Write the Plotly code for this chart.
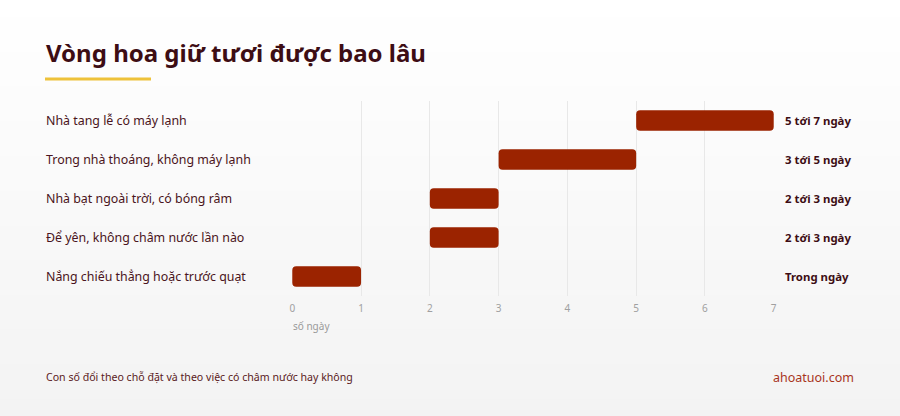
import plotly.graph_objects as go

# ---- data ----
categories = [
    "Nhà tang lễ có máy lạnh",
    "Trong nhà thoáng, không máy lạnh",
    "Nhà bạt ngoài trời, có bóng râm",
    "Để yên, không châm nước lần nào",
    "Nắng chiếu thẳng hoặc trước quạt",
]
start_days = [5, 3, 2, 2, 0]
end_days = [7, 5, 3, 3, 1]
range_labels = ["5 tới 7 ngày", "3 tới 5 ngày", "2 tới 3 ngày", "2 tới 3 ngày", "Trong ngày"]
x_ticks = [0, 1, 2, 3, 4, 5, 6, 7]

title_text = "Vòng hoa giữ tươi được bao lâu"
x_title = "số ngày"
footer_text = "Con số đổi theo chỗ đặt và theo việc có châm nước hay không"
source_text = "ahoatuoi.com"

# ---- geometry (pixels) ----
W, H = 900, 416
L, R, T, B = 292, 126, 101, 120
pw = W - L - R
ph = H - T - B

def px_x(p):
    return (p - L) / pw

def px_y(p):
    return 1 - (p - T) / ph

BAR = "#9b2300"
DARK = "#3d0d14"
LABEL = "#4a1420"
FONT = "Noto Sans"

lengths = [e - s for s, e in zip(start_days, end_days)]

fig = go.Figure()
fig.add_trace(go.Bar(
    y=categories,
    x=lengths,
    base=start_days,
    orientation="h",
    marker=dict(color=BAR, cornerradius=4, line=dict(width=0)),
    width=0.52,
    hoverinfo="skip",
))

shapes = []
# subtle vertical background gradient
n = 24
top_c = (255, 255, 255)
bot_c = (243, 243, 243)
for i in range(n):
    t = i / (n - 1)
    c = tuple(round(a + (b - a) * t) for a, b in zip(top_c, bot_c))
    y0px = H * i / n
    y1px = H * (i + 1) / n + 1
    shapes.append(dict(
        type="rect", xref="paper", yref="paper",
        x0=px_x(0), x1=px_x(W), y0=px_y(y1px), y1=px_y(y0px),
        fillcolor="rgb(%d,%d,%d)" % c, line=dict(width=0), layer="below",
    ))
# yellow accent under title
shapes.append(dict(
    type="rect", xref="paper", yref="paper",
    x0=px_x(45), x1=px_x(151), y0=px_y(80.5), y1=px_y(77.5),
    fillcolor="#eec23a", line=dict(width=0), layer="above",
))

annotations = []
annotations.append(dict(
    text="<b>" + title_text + "</b>", xref="paper", yref="paper",
    x=px_x(44), y=px_y(52), xanchor="left", yanchor="middle",
    showarrow=False, font=dict(family=FONT, size=24, color=DARK),
))
for cat, lab, end in zip(categories, range_labels, end_days):
    annotations.append(dict(
        text=cat, xref="paper", yref="y", x=px_x(44), y=cat,
        xanchor="left", yanchor="middle", showarrow=False,
        font=dict(family=FONT, size=12.4, color=LABEL),
    ))
    annotations.append(dict(
        text="<b>" + lab + "</b>", xref="paper", yref="y", x=px_x(783), y=cat,
        xanchor="left", yanchor="middle", showarrow=False,
        font=dict(family=FONT, size=11.4, color=DARK),
    ))
annotations.append(dict(
    text=x_title, xref="paper", yref="paper", x=px_x(291), y=px_y(326),
    xanchor="left", yanchor="middle", showarrow=False,
    font=dict(family=FONT, size=10, color="#9a9a9a"),
))
annotations.append(dict(
    text=footer_text, xref="paper", yref="paper", x=px_x(44), y=px_y(377),
    xanchor="left", yanchor="middle", showarrow=False,
    font=dict(family=FONT, size=10.6, color="#5a1a22"),
))
annotations.append(dict(
    text=source_text, xref="paper", yref="paper", x=px_x(856), y=px_y(377),
    xanchor="right", yanchor="middle", showarrow=False,
    font=dict(family=FONT, size=12.5, color="#a8341c"),
))

fig.update_layout(
    width=W, height=H,
    margin=dict(l=L, r=R, t=T, b=B, pad=0),
    paper_bgcolor="#f7f7f7",
    plot_bgcolor="rgba(0,0,0,0)",
    showlegend=False,
    bargap=0.48,
    font=dict(family=FONT, color=DARK),
    xaxis=dict(
        range=[-0.004, 7.004], tickvals=x_ticks, showgrid=True, gridcolor="#e8e8e8",
        gridwidth=1, zeroline=False, showline=False, ticks="",
        ticklabelstandoff=5,
        tickfont=dict(family=FONT, size=10, color="#a0a0a0"),
        fixedrange=True,
    ),
    yaxis=dict(
        categoryorder="array", categoryarray=categories[::-1],
        range=[-0.5, 4.5], showticklabels=False, showgrid=False,
        zeroline=False, showline=False, ticks="", fixedrange=True,
    ),
    shapes=shapes,
    annotations=annotations,
)

fig.write_html(
    "out.html",
    config={"displayModeBar": False},
    post_script="document.body.style.margin='0';document.body.style.overflow='hidden';",
)
